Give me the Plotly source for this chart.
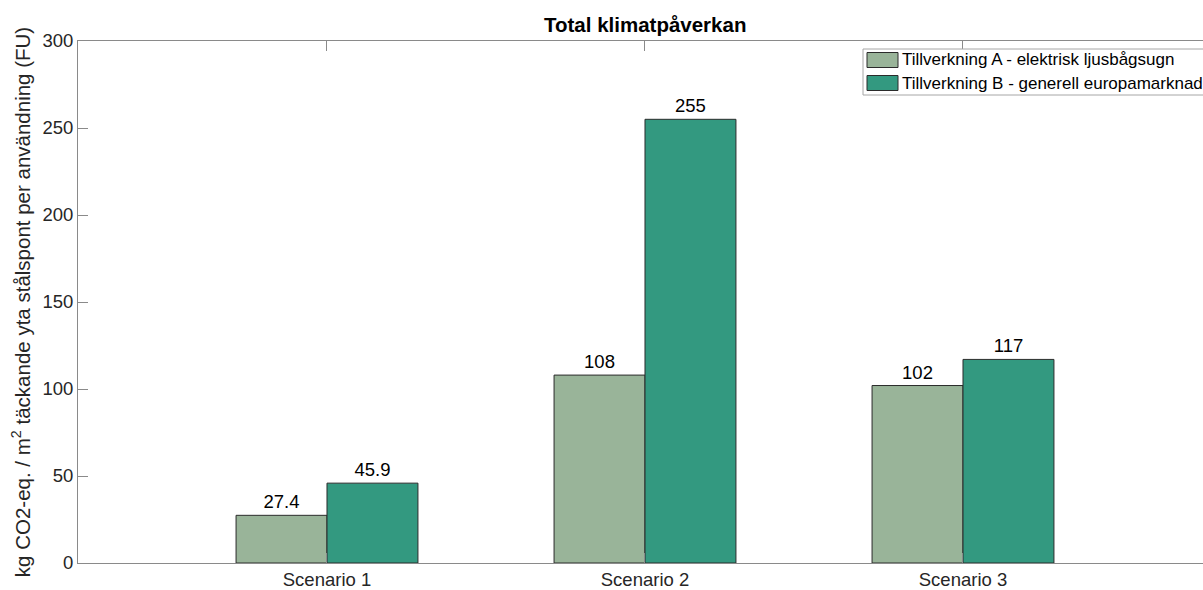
import plotly.graph_objects as go

categories = ["Scenario 1", "Scenario 2", "Scenario 3"]
series_a_name = "Tillverkning A - elektrisk ljusbågsugn"
series_b_name = "Tillverkning B - generell europamarknad"
series_a = [27.4, 108, 102]
series_b = [45.9, 255, 117]
y_ticks = [0, 50, 100, 150, 200, 250, 300]

color_a = "#99b499"
color_b = "#339980"
edge = "#2b2b2b"
axis_color = "#262626"
line_color = "#8a8a8a"
font = "Liberation Sans, Arial, Helvetica, sans-serif"

W, H = 1203, 590
L, R, T, B = 78, 0, 41, 27
pw = W - L - R
ph = H - T - B

def px(x):
    return (x - L) / pw

def py(y):
    return (H - B - y) / ph

xpos = [1, 2, 3]
fig = go.Figure()
for name, vals, col in [(series_a_name, series_a, color_a), (series_b_name, series_b, color_b)]:
    fig.add_trace(go.Bar(
        x=xpos, y=vals, name=name,
        marker=dict(color=col, line=dict(color=edge, width=1)),
        text=[f"{v:g}" for v in vals], textposition="outside",
        textfont=dict(family=font, size=18.5, color="#000000"),
        cliponaxis=False, showlegend=False,
    ))

fig.update_layout(
    width=W, height=H,
    margin=dict(l=L, r=R, t=T, b=B, autoexpand=False),
    paper_bgcolor="white", plot_bgcolor="white",
    barmode="group", bargap=0.428, bargroupgap=0,
    font=dict(family=font, size=18, color=axis_color),
    xaxis=dict(
        range=[0.217, 0.217 + pw / 318.0],
        tickmode="array", tickvals=xpos, ticktext=categories,
        ticks="inside", ticklen=10, tickcolor=line_color,
        showline=True, linecolor=line_color, linewidth=1, mirror="ticks",
        showgrid=False, zeroline=False,
        tickfont=dict(size=18.5, color=axis_color),
    ),
    yaxis=dict(
        range=[0, 300],
        tickmode="array", tickvals=y_ticks,
        ticks="inside", ticklen=10, tickcolor=line_color,
        showline=True, linecolor=line_color, linewidth=1, mirror=False,
        showgrid=False, zeroline=False,
        tickfont=dict(size=18.5, color=axis_color),
        title=dict(text="kg CO2-eq. / m<sup>2</sup> täckande yta stålspont per användning (FU)",
                   font=dict(size=20.5, color=axis_color), standoff=6),
    ),
)

# Title centred on the (uncropped) axes
fig.add_annotation(
    text="<b>Total klimatpåverkan</b>", xref="paper", yref="paper",
    x=px(645), y=py(25), xanchor="center", yanchor="middle", showarrow=False,
    font=dict(family=font, size=20.5, color="#000000"),
)

# Legend box (cut off at right edge like the reference)
fig.add_shape(type="rect", xref="paper", yref="paper",
              x0=px(863), x1=px(1215), y0=py(95), y1=py(49),
              line=dict(color="#a6a6a6", width=1), fillcolor="white", layer="above")
for i, (name, col) in enumerate([(series_a_name, color_a), (series_b_name, color_b)]):
    yc = 60 + i * 23
    fig.add_shape(type="rect", xref="paper", yref="paper",
                  x0=px(867), x1=px(898), y0=py(yc + 7.5), y1=py(yc - 7.5),
                  line=dict(color=edge, width=1), fillcolor=col, layer="above")
    fig.add_annotation(text=name, xref="paper", yref="paper",
                       x=px(900), y=py(yc), xanchor="left", yanchor="middle",
                       showarrow=False, font=dict(family=font, size=17, color="#000000"))

fig.write_html("out.html")
